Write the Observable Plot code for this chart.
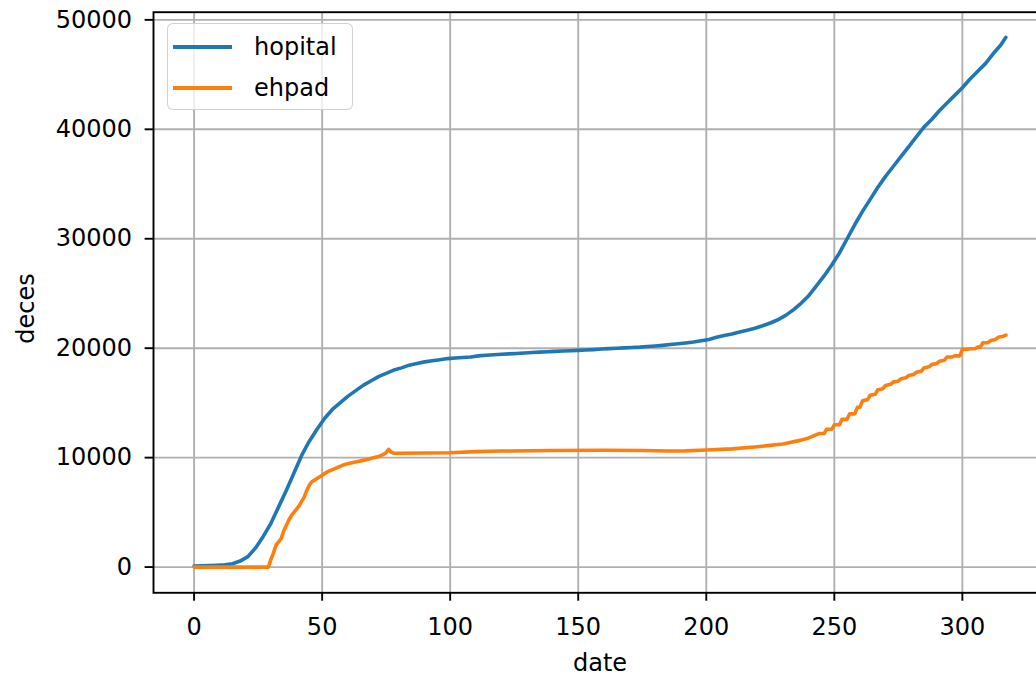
<!DOCTYPE html>
<html>
<head>
<meta charset="utf-8">
<script src="https://cdn.jsdelivr.net/npm/d3@7"></script>
<script src="https://cdn.jsdelivr.net/npm/@observablehq/plot@0.6"></script>
<style>
  html, body { margin: 0; padding: 0; background: white; overflow: hidden; }
  #wrap { position: relative; width: 1036px; height: 676px; overflow: hidden; background: white; }
  #wrap svg { max-width: none !important; display: block; }
  #legend {
    position: absolute; left: 167px; top: 23px; width: 186px; height: 87px;
    border: 1.5px solid rgba(204,204,204,0.9); border-radius: 6px;
    background: rgba(255,255,255,0.8); box-sizing: border-box;
    font-family: "DejaVu Sans", sans-serif; font-size: 24px; color: #000;
  }
  .item { position: absolute; left: 0; height: 30px; width: 100%; }
  .swatch { position: absolute; left: 5px; width: 59px; height: 3.6px; }
  .lab { position: absolute; left: 86px; line-height: 30px; white-space: nowrap; }
</style>
</head>
<body>
<div id="wrap"></div>
<script>
// ---- data ----
const hopitalDays = [0,3,6,9,12,15,18,21,24,27,30,33,36,39,42,45,48,51,54,57,60,63,66,69,72,75,78,81,84,87,90,93,96,99,102,105,108,111,114,117,120,123,126,129,132,135,138,141,144,147,150,153,156,159,162,165,168,171,174,177,180,183,186,189,192,195,198,201,204,207,210,213,216,219,222,225,228,231,234,237,240,243,246,249,252,255,258,261,264,267,270,273,276,279,282,285,288,291,294,297,300,303,306,309,312,315,317];
const hopitalValues = [100,110,130,160,200,300,550,950,1750,2800,4000,5500,7000,8600,10200,11500,12600,13600,14400,15000,15600,16100,16600,17000,17400,17700,18000,18200,18450,18600,18750,18850,18950,19050,19100,19150,19200,19300,19350,19400,19450,19480,19520,19560,19600,19640,19680,19710,19740,19770,19800,19830,19870,19920,19960,20000,20030,20070,20100,20150,20200,20260,20330,20400,20480,20570,20680,20800,21000,21150,21300,21480,21650,21830,22050,22300,22600,23000,23500,24100,24800,25700,26600,27600,28700,30000,31300,32500,33600,34700,35700,36600,37500,38400,39300,40200,40900,41700,42400,43100,43800,44600,45300,46000,46900,47700,48400];

const ehpadDays = [0,29,30,31,32,33,34,35,36,37,38,39,40,41,42,43,44,45,46,48,50,52,54,56,58,60,62,64,66,68,70,72,74,75,76,77,78,80,100,110,120,140,160,175,185,192,200,210,220,224,230,237,240,244,246,247,249,250,252,253,255,256,258,259,260,261,263,264,266,267,269,270,272,273,275,276,278,279,281,282,284,285,287,288,290,291,293,294,296,297,299,300,302,303,305,306,307,308,310,311,313,314,316,317];
const ehpadValues = [0,0,700,1300,2000,2300,2600,3300,3800,4300,4700,5000,5300,5600,6000,6400,7000,7500,7800,8100,8400,8700,8900,9100,9300,9450,9550,9650,9750,9850,10000,10100,10300,10450,10750,10500,10400,10400,10450,10550,10600,10650,10680,10650,10610,10620,10700,10800,11000,11100,11250,11600,11800,12200,12200,12600,12600,13000,13000,13500,13500,14000,14000,14600,14600,15200,15300,15700,15800,16200,16300,16600,16700,16900,17000,17200,17300,17500,17600,17800,17900,18200,18300,18500,18600,18800,18900,19200,19200,19300,19300,19900,19900,19950,19950,20100,20100,20500,20500,20700,20800,21000,21100,21200];

const seriesNames = ["hopital", "ehpad"];
const seriesColors = ["#1f77b4", "#ff7f0e"];
const xTicks = [0, 50, 100, 150, 200, 250, 300];
const yTicks = [0, 10000, 20000, 30000, 40000, 50000];
const xLabel = "date";
const yLabel = "deces";

const hopData = hopitalDays.map((d, i) => ({date: d, deces: hopitalValues[i]}));
const ehpData = ehpadDays.map((d, i) => ({date: d, deces: ehpadValues[i]}));

const sw = 1.9;
const chart = Plot.plot({
  width: 1050,
  height: 676,
  marginLeft: 153,
  marginRight: 4,
  marginTop: 11.7,
  marginBottom: 676 - 592.3,
  style: {fontFamily: "DejaVu Sans, sans-serif", fontSize: "24px", color: "#000", background: "white", maxWidth: "none"},
  x: {domain: [-15.85, 332.85]},
  y: {domain: [-2350, 50700]},
  marks: [
    Plot.gridX(xTicks, {stroke: "#b0b0b0", strokeOpacity: 1, strokeWidth: sw}),
    Plot.gridY(yTicks, {stroke: "#b0b0b0", strokeOpacity: 1, strokeWidth: sw}),
    Plot.line(hopData, {x: "date", y: "deces", stroke: seriesColors[0], strokeWidth: 3.6, strokeLinejoin: "round"}),
    Plot.line(ehpData, {x: "date", y: "deces", stroke: seriesColors[1], strokeWidth: 3.6, strokeLinejoin: "round"}),
    Plot.frame({stroke: "#000", strokeWidth: sw}),
    Plot.axisX(xTicks, {tickSize: 8.4, tickPadding: 17, strokeWidth: sw, stroke: "#000", tickFormat: d => String(d),
      fontSize: 24, label: xLabel, labelAnchor: "center", labelArrow: "none", labelOffset: 77.7}),
    Plot.axisY(yTicks, {tickSize: 8.4, tickPadding: 13, strokeWidth: sw, stroke: "#000", tickFormat: d => String(d),
      fontSize: 24, label: null}),
    Plot.text([yLabel], {text: d => d, frameAnchor: "left", rotate: -90, textAnchor: "middle", lineAnchor: "top",
      dx: -137, dy: 6, fontSize: 24, fill: "#000"})
  ]
});
const wrap = document.getElementById("wrap");
wrap.appendChild(chart);

// legend (HTML overlay inside the axes, upper left)
const legend = document.createElement("div");
legend.id = "legend";
seriesNames.forEach((name, i) => {
  const item = document.createElement("div");
  item.className = "item";
  item.style.top = (8 + i * 41) + "px";
  const s = document.createElement("div");
  s.className = "swatch";
  s.style.background = seriesColors[i];
  s.style.top = "13px";
  const l = document.createElement("div");
  l.className = "lab";
  l.textContent = name;
  item.appendChild(s);
  item.appendChild(l);
  legend.appendChild(item);
});
wrap.appendChild(legend);
</script>
</body>
</html>
